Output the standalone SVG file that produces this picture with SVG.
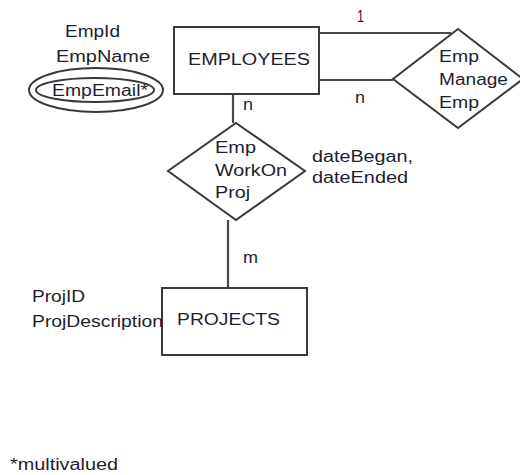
<svg xmlns="http://www.w3.org/2000/svg" width="520" height="475" viewBox="0 0 520 475">
<style>
  text { font-family: "Liberation Sans", Arial, sans-serif; font-size: 16px; fill: #1e1e30; }
  .shape { fill: #ffffff; stroke: #3a3a3a; stroke-width: 2; }
  .conn { fill: none; stroke: #4a4a4a; stroke-width: 2.2; }
</style>
<rect x="0" y="0" width="520" height="475" fill="#ffffff"/>
<g id="connectors">
  <line class="conn" x1="319" y1="33" x2="451" y2="33"/>
  <line class="conn" x1="319" y1="80" x2="393" y2="80"/>
  <line class="conn" x1="233" y1="94" x2="233" y2="123"/>
  <line class="conn" x1="228" y1="220" x2="228" y2="288"/>
  <text x="357" y="22" textLength="7" lengthAdjust="spacingAndGlyphs">1</text>
  <text x="355" y="103" textLength="10" lengthAdjust="spacingAndGlyphs">n</text>
  <text x="243" y="110" textLength="10" lengthAdjust="spacingAndGlyphs">n</text>
  <text x="243" y="263" textLength="15" lengthAdjust="spacingAndGlyphs">m</text>
</g>
<g id="employees">
  <rect class="shape" x="174" y="27" width="145" height="67"/>
  <text x="188" y="65" textLength="122" lengthAdjust="spacingAndGlyphs">EMPLOYEES</text>
</g>
<g id="employee-attributes">
  <text x="65" y="37" textLength="55" lengthAdjust="spacingAndGlyphs">EmpId</text>
  <text x="56" y="62" textLength="94" lengthAdjust="spacingAndGlyphs">EmpName</text>
  <ellipse class="shape" cx="96" cy="90" rx="67" ry="22"/>
  <ellipse class="shape" cx="95" cy="90" rx="59" ry="12"/>
  <text x="52" y="96" textLength="96" lengthAdjust="spacingAndGlyphs">EmpEmail*</text>
</g>
<g id="emp-manage-emp">
  <polygon class="shape" points="458,29 523,79 458,128 393,79"/>
  <text x="439" y="62" textLength="40" lengthAdjust="spacingAndGlyphs">Emp</text>
  <text x="439" y="85" textLength="69" lengthAdjust="spacingAndGlyphs">Manage</text>
  <text x="439" y="108" textLength="40" lengthAdjust="spacingAndGlyphs">Emp</text>
</g>
<g id="emp-workon-proj">
  <polygon class="shape" points="236,123 305,171 236,220 168,171"/>
  <text x="215" y="153" textLength="41" lengthAdjust="spacingAndGlyphs">Emp</text>
  <text x="215" y="176" textLength="72" lengthAdjust="spacingAndGlyphs">WorkOn</text>
  <text x="215" y="198" textLength="35" lengthAdjust="spacingAndGlyphs">Proj</text>
  <text x="312" y="162" textLength="101" lengthAdjust="spacingAndGlyphs">dateBegan,</text>
  <text x="312" y="183" textLength="96" lengthAdjust="spacingAndGlyphs">dateEnded</text>
</g>
<g id="projects">
  <rect class="shape" x="162" y="288" width="145" height="67"/>
  <text x="177" y="325" textLength="103" lengthAdjust="spacingAndGlyphs">PROJECTS</text>
</g>
<g id="project-attributes">
  <text x="32" y="302" textLength="53" lengthAdjust="spacingAndGlyphs">ProjID</text>
  <text x="32" y="327" textLength="131" lengthAdjust="spacingAndGlyphs">ProjDescription</text>
</g>
<g id="note">
  <text x="10" y="470" textLength="108" lengthAdjust="spacingAndGlyphs">*multivalued</text>
</g>
</svg>
